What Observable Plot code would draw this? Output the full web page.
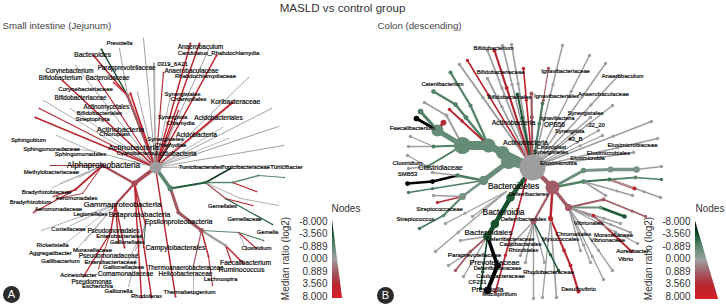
<!DOCTYPE html>
<html>
<head>
<meta charset="utf-8">
<style>html,body{margin:0;padding:0;background:#fff}svg{display:block}</style>
<script src="https://cdn.jsdelivr.net/npm/d3@7"></script>
<script src="https://cdn.jsdelivr.net/npm/@observablehq/plot@0.6"></script>
</head>
<body>
<div id="chart"></div>
<script>
// Colour key of the reference
const ratioTicks = [-8, -3.56, -0.889, 0, 0.889, 3.56, 8];
const ratioColors = ["#000000", "#124f2c", "#5d8a72", "#9e9ea0", "#a25a64", "#b8242e", "#d71e2a"];

// Tree edges: [x1, y1, x2, y2, median ratio, edge weight]
const edgesA = [
[155,167,127,95,0.9,2.2],[127,95,101,49,-4,1.2],[127,95,93,55,4,1.2],[127,95,119,48,0,.8],[127,95,113,82,3,1],
[155,167,143,38,0,.8],[155,167,153,62,0,.7],[155,167,154,63,0,.7],[155,167,163,72,3,1],[155,167,130,93,5,1.4],[155,167,137,92,0,.8],
[155,167,62,80,3.5,1.3],[155,167,98,80,3.5,1],[155,167,75,65,0,.8],[155,167,43,100,0,.7],[155,167,39,108,3,1],[155,167,35,117,3.5,1.2],[155,167,70,108,0,.7],
[155,167,90,150,0,.8],[90,150,56,135,0,.7],[90,150,62,148,0,.6],
[155,167,190,43,4.5,1.2],[155,167,199,43,5,1.2],[155,167,208,49,0,.8],[155,167,216,55,5,1.3],[155,167,248,77,0,.8],[155,167,232,102,5,1.6],[155,167,271,108,0,.8],[155,167,278,126,0,.8],[155,167,283,145,0,.8],[155,167,222,127,0,.6],[155,167,218,116,0,.6],[155,167,228,138,0,.6],[155,167,288,165,0,.8],[155,167,170,143,-8,.9],[155,167,178,110,3,1],[155,167,170,95,0,.7],
[155,167,134,183,1.6,3.2],[134,183,102,165,1.6,2],[134,183,115,204,2,1.8],[134,183,145,224,2.5,1.2],[155,167,175,296,3.5,1.2],
[102,165,50,165,2.5,1],[102,165,78,177,0,.7],[102,165,75,189,3.5,1.4],[75,189,53,196,4.5,1],[75,189,33,212,3.5,1],[102,165,82,193,2,.9],[82,193,57,198,2,.8],[102,165,60,183,0,.6],[102,165,52,187,0,.6],
[115,204,41,230,0,.7],[115,204,70,225,0,.7],[115,204,65,243,0,.6],[115,204,75,250,0,.7],[115,204,85,240,0,.7],[115,204,110,232,3.5,1.2],[110,232,83,276,4.5,1.1],[110,232,98,268,3,.8],[115,204,118,242,3.5,1.2],[115,204,124,247,3,1.2],
[145,224,128,260,0,.7],[145,224,128,286,0,.7],[145,224,135,250,0,.7],[145,224,143,247,-4,.7],[134,183,141,297,4.5,1.2],[134,183,151,297,4,1.2],
[155,167,170,188,-1,3],[170,188,205,182,-3,1.8],[205,182,230,168,-5,1.2],[205,182,232,182,-1,1.2],[232,182,258,175,-1,1.2],[258,175,284,177,-1,1],[232,182,256,191,4,1],[205,182,225,198,1.2,1.2],[225,198,252,205,3.5,1],[205,182,240,198,0,.7],[240,198,278,205,0,.7],[225,198,272,224,-3,1],
[170,188,178,212,1,2.5],[178,212,201,230,1,2.5],[201,230,238,232,-1,1],[238,232,263,240,-1.5,1],[238,232,256,248,4,1],[238,232,246,250,0,.7],[201,230,225,245,0,1.8],[225,245,243,263,4,1.2],[225,245,231,262,3.5,1],[201,230,193,265,1,1],[193,265,193,294,0,.6],[201,230,208,256,4.5,1.2],[208,256,212,285,3,.9]
];
const edgesB = [
[532,167,488,145,-.8,7],[488,145,462,145,-.8,9],[462,145,437,130,-.8,5],[437,130,420,111,-1.3,3],[437,130,416,118,-8,3],[437,130,443,122,3,3],[462,145,446,115,0,1.5],[446,115,424,102,0,1.2],[462,145,433,146,-1.5,2],[433,146,410,136,0,1],[433,146,408,146,0,1],
[488,145,455,104,-1.3,2.5],[455,104,433,91,-1.3,2.5],[488,145,470,105,-1.3,2.2],[470,105,450,72,-1.3,2.2],[532,167,459,64,0,1.4],[532,167,467,60,3.5,1.2],[488,145,449,109,3.5,1.3],
[532,167,487,50,0,1.3],[532,167,502,45,0,1.2],[532,167,511,44,0,1.2],[532,167,494,50,3.5,1.6],[532,167,487,78,0,1.3],[532,167,523,68,4.5,1.2],[532,167,517,94,-3,2],[532,167,531,93,.9,2.2],[532,167,548,68,.9,.9],[532,167,562,45,0,1.1],[532,167,589,55,0,1.1],[532,167,605,63,0,1.1],[532,167,618,75,0,1.1],[532,167,612,105,0,1.1],[532,167,651,121,0,1.1],[532,167,657,138,0,1.1],[532,167,633,152,0,1.1],[532,167,598,130,0,1],[532,167,602,135,0,1],[532,167,590,117,0,1],[532,167,542,103,-1.5,1.5],
[532,167,508,161,-.7,8],[508,161,483,180,-.7,5],[483,180,457,175,-1.5,1.8],[457,175,432,181,-8,2.5],[432,181,407,183,-8,2.5],[483,180,408,192,-1.5,1],[457,175,432,172,0,1],[483,180,462,196,-.5,2.5],[462,196,437,202,3,1.3],[462,196,433,195,0,1],[462,196,443,215,-1,1.4],[443,215,419,228,-1.5,1.4],[462,145,427,166,-1.5,2],[427,166,407,155,0,1],[427,166,408,168,0,1],
[532,167,510,197,-3,4.5],[510,197,487,236,-3.5,4.5],[506,191,472,216,0,1],[506,191,445,223,0,1],[506,191,435,251,0,1],[487,236,497,265,-8,3.5],[497,265,487,290,-8,4],[487,236,480,288,-4,1.2],[487,236,460,240,0,1],[487,236,470,251,1,1.3],[470,251,455,270,1,1.3],[470,251,448,265,0,1],[487,236,463,276,0,1],[526,178,495,291,4,1.2],
[532,167,552,187,.9,4.5],[552,187,583,170,-.7,2.8],[583,170,610,169,-.5,3.2],[610,169,636,169,-.5,3.5],[636,169,661,166,0,1],[552,187,583,181,-1.2,2.5],[583,181,609,179,-2,2],[609,179,635,177,-1,1.5],[635,177,661,179,-1.5,1.2],[583,181,605,195,0,1.2],[583,181,632,195,0,1.2],[609,179,634,188,4,1.6],[609,179,660,197,0,1],
[552,187,568,207,.9,3.5],[568,207,603,199,.9,1.5],[603,199,645,216,.9,1.2],[568,207,600,207,-.7,1.5],[600,207,624,216,-3,1.8],[568,207,593,215,4,1.2],[593,215,631,251,4.5,1.3],[568,207,620,223,0,1.1],[568,207,637,243,0,1],[568,207,612,270,0,1],[568,207,603,279,0,1],[568,207,590,262,0,1],[568,207,580,250,0,1],[568,207,630,232,0,1],
[552,187,550,218,3.5,2.5],[550,218,570,265,3.5,2],[570,265,578,291,4.5,1.6],[550,218,556,297,0,1.2],[550,218,542,297,0,1],
[552,187,533,221,.9,2.2],[533,221,533,298,0,1],[533,221,510,245,0,1],[533,221,520,255,0,1],[533,221,525,262,0,1],[533,221,544,262,0,1],[533,221,558,270,-3,1.2]
];
// Hub nodes: [x, y, median ratio, radius]
const hubsA = [[155,167,0,6],[134,183,1.6,3],[170,188,-1,3],[201,230,1,2.5],[205,182,-2,1.8],[102,165,1.6,1.8],[115,204,1.6,1.5]];
const hubsB = [[532,167,0,13],[488,145,-.8,7],[462,145,-.8,8],[437,130,-.8,6],[508,161,-.7,7],[483,180,-.7,4],[462,196,-.5,3.5],[552,187,.9,7],[568,207,.9,3.5],[550,218,3.5,2.5],[533,221,.9,3],[487,290,-8,3]];

// Taxon labels: [text, x, y, font size]
const labelsA = [
["Prevotella",119,43,5.8],["Bacteroides",92,54,7],["Corynebacterium",69,70,6.3],["Parapprevotellaceae",126,67,6.3],["Bifidobacterium",60,77,6.3],["Bacteroidaceae",107,77,6.3],["Corynebacteriaceae",85,89,6.1],["Bifidobacteriaceae",80,97,6.3],["Actinomycetales",106,106,6.3],["Bifidobacteriales",99,113,6.2],["Streptophyta",92,119,6],["Actinobacteria",120,129,7.5],["Chloroplast",114,134,6],["Actinobacteria",133,147,8],["Cyanobacteria",135,153,5.8],
["Sphingobium",28,140,6],["Sphingomonadaceae",51,149,6],["Sphingomonadales",80,154,6],["Alphaproteobacteria",103,165,8.2],["Methylobacteriaceae",51,172,6],["Bradyrhizobiaceae",46,192,6],["Aeromonadales",76,198,6],["Bradyrhizobium",30,202,6],["Aeromonadaceae",58,209,6],["Legionellales",90,214,5.8],["Gammaproteobacteria",122,204,7.8],["Betaproteobacteria",139,214,7.3],["Epsilonproteobacteria",178,221,7],["Coxiellaceae",68,229,6],["Pseudomonadales",113,230,6.3],["Enterobacteriales",119,236,6],["Gallionellales",127,242,5.9],["Rickettsiella",52,245,6],["Moraxellaceae",92,250,6],["Campylobacterales",175,247,7],["Aggregatibacter",50,253,6],["Pseudomonadaceae",108,255,6.5],["Gallibacterium",60,261,6],["Enterobacteriaceae",110,262,6],["Gallionellaceae",123,267,6],["Thermoanaerobacteraceae",185,267,6.3],["Comamonadaceae",125,273,6.6],["Helicobacteraceae",185,273,6.5],["Acinetobacter",78,275,6],["Pseudomonas",91,281,6.3],["Lachnospira",220,279,6.2],["Escherichia",97,286,6],["Gallionella",118,291,6],["Rhodoferax",146,296,6],["Thermabetogenium",189,292,6],
["Anaerobaculum",200,46,6.5],["Candidatus_Rhabdochlamydia",218,53,6],["0319_6A21",172,64,6],["Anaerobaculaceae",191,70,6.5],["Rhabdochlamydiaceae",205,76,6],["Synergistales",182,94,6],["Chlamydiales",188,99,6],["Koribacteraceae",235,101,6.8],["Synergistia",172,117,6],["Acidobacteriales",218,117,6.6],["Chlamydia",180,123,6],["Acidobacteria",196,134,6.8],["Synergistetes",165,139,6],["Chlamydiae",170,145,6],["Acidobacteria",175,153,7],
["Tunicibacterales",200,167,6],["Tunicibacteraceae",245,167,6],["Tunicibacter",286,167,6],["Gemellales",222,206,5.8],["Gemellaceae",244,219,5.8],["Gemella",267,232,5.8],["Clostridium",256,248,6],["Faecalibacterium",245,262,6.7],["Ruminococcus",241,269,7]
];
const labelsB = [
["Bifidobacterium",493,48,5.8],["Bifidobacteriaceae",500,72,5.8],["Catenibacterium",442,84,5.8],["Bifidobacteriales",509,97,6],["Ignavibacteriaceae",565,71,5.8],["Ignavibacteriales",556,96,6],["Anaerobaculum",622,76,6],["Anaerobaculaceae",603,94,6.1],["Synergistales",585,113,6],["Ignavibacteria",557,118,5.5],["OPB56",554,124,6.5],["32_20",596,125,6],["Synergistia",569,131,6],["#3_B",575,139,6],["Elusimicrobiaceae",632,145,6.2],["Chloroplast",551,147,5.8],["Synergistetes",550,152,5.8],["Elusimicrobiales",608,153,6],["Elusimicrobia",587,158,5.8],["Elusimicrobia",558,163,6.2],["Actinobacteria",513,122,6.9],["Actinobacteria",525,142,7.1],
["Faecalibacterium",412,128,6],["Clostridium",407,163,6],["Clostridiaceae",440,167,7],["SMB53",407,174,6],["Streptococcaceae",439,209,5.8],["Streptococcus",415,219,6],["Bacteroidetes",513,186,8.4],["Deferribacteres",528,194,5.8],["Bacteroidia",503,212,8.4],["Deferribacterales",523,219,6],["Bacteroidales",488,232,7.9],["Deferribacteraceae",510,239,5.6],["Caulobacterales",520,244,5.8],["Rhizobiales",523,250,5.8],["Paraprevotellaceae",474,255,6.2],["Prevotellaceae",494,262,7.6],["Deferribacteraceae",497,268,5.6],["Caulobacteraceae",500,276,6],["CF231",477,282,6],["Prevotella",487,289,7.2],["Mucispirillum",499,294,6],["Rhodobacteraceae",548,272,6],
["Vibrionales",588,223,6],["Chromatiales",573,234,6],["Moraxellaceae",613,235,6],["Vibrionaceae",607,240,6],["Myxococcales",560,239,6],["Aureobacter",632,251,6],["Vibrio",625,259,6],["Desulfovibrio",578,289,6]
];

// Page and panel texts: [text, x, y, font size]
const titles = [["MASLD vs control group",342,8,11.6]];
const panelTitles = [["Small intestine (Jejunum)",2,25,9.7],["Colon (descending)",377,25,9.7]];
const badges = [["A",11,294],["B",385,295]];

// Two colour keys: wedge box, tick text anchor and title placement
const keys = [
  {x0:332, x1:342, top:220, bottom:298, tickX:327, axisX:285, nodesX:331},
  {x0:695, x1:718, top:221, bottom:299, tickX:690, axisX:648, nodesX:695}
];

const rowsA = edgesA.map(([x1,y1,x2,y2,v,w]) => ({x1,y1,x2,y2,v,w:w*1.2}));
const rowsB = edgesB.map(([x1,y1,x2,y2,v,w]) => ({x1,y1,x2,y2,v,w:w<2 ? w*1.35 : w}));
const edges = rowsA.concat(rowsB);
const hubs = hubsA.concat(hubsB).map(([x,y,v,r]) => ({x,y,v,r}));
const tipsA = rowsA.map(d => ({x:d.x2, y:d.y2, v:d.v, r:Math.max(d.w * 0.7, 0.6)}));
const tipsB = rowsB.map(d => ({x:d.x2, y:d.y2, v:d.v, r:Math.max(d.w * 0.95, 1.7)}));
// long rays of the colon tree carry an intermediate node
const midB = rowsB.filter(d => Math.hypot(d.x2-d.x1, d.y2-d.y1) > 45).map(d => ({
  x:d.x1 + (d.x2-d.x1)*0.68, y:d.y1 + (d.y2-d.y1)*0.68, v:d.v, r:Math.max(d.w*0.95, 1.6)
}));
const labels = labelsA.concat(labelsB).map(([t,x,y,s]) => ({t,x,y,s}));

const tickPos = d3.scaleLinear(d3.range(7), ratioTicks);
const wedge = keys.flatMap(k => d3.range(k.bottom - k.top).map(i => ({
  x0:k.x0, x1:k.x0 + (k.x1 - k.x0) * (i + 1) / (k.bottom - k.top),
  y1:k.top + i, y2:k.top + i + 1,
  v:tickPos(6 * i / (k.bottom - k.top - 1))
})));
const tickRows = keys.flatMap(k => ratioTicks.map((v,i) => ({
  t:v.toFixed(3), x:k.tickX, y:221 + i * 12.5
})));

const plot = Plot.plot({
  width:726, height:306, margin:0,
  style:{background:"#fff", fontFamily:"'Liberation Sans', Arial, sans-serif", overflow:"hidden"},
  x:{domain:[0,726], range:[0,726], axis:null},
  y:{domain:[0,306], range:[0,306], axis:null},
  r:{type:"identity"},
  color:{type:"linear", domain:ratioTicks, range:ratioColors, interpolate:"rgb"},
  marks:[
    Plot.link(edges, {x1:"x1", y1:"y1", x2:"x2", y2:"y2", stroke:"v", strokeWidth:"w", strokeLinecap:"round"}),
    Plot.dot(tipsA.concat(tipsB, midB), {x:"x", y:"y", r:"r", fill:"v", stroke:"none"}),
    Plot.dot(hubs, {x:"x", y:"y", r:"r", fill:"v", stroke:"none"}),
    Plot.text(labels, {x:"x", y:"y", text:"t", fontSize:"s", fill:"#0a0a0a", stroke:"#0a0a0a", strokeWidth:0.2}),
    Plot.text(titles, {x:d=>d[1], y:d=>d[2], text:d=>d[0], fontSize:d=>d[3], fill:"#333"}),
    Plot.text(panelTitles, {x:d=>d[1], y:d=>d[2], text:d=>d[0], fontSize:d=>d[3], textAnchor:"start", fill:"#444"}),
    Plot.dot(badges, {x:d=>d[1], y:d=>d[2], r:()=>8.5, fill:"#2b2b2b", stroke:"none"}),
    Plot.text(badges, {x:d=>d[1], y:d=>d[2], text:d=>d[0], fontSize:11, fill:"#fff"}),
    Plot.rect(wedge, {x1:"x0", x2:"x1", y1:"y1", y2:"y2", fill:"v"}),
    Plot.text(tickRows, {x:"x", y:"y", text:"t", fontSize:10, textAnchor:"end", fill:"#333"}),
    Plot.text(keys, {x:"nodesX", y:()=>208, text:()=>"Nodes", fontSize:10, textAnchor:"start", fill:"#333"}),
    Plot.text(keys, {x:"axisX", y:()=>258, text:()=>"Median ratio (log2)", fontSize:10, rotate:-90, fill:"#333"})
  ]
});
document.getElementById("chart").append(plot);
</script>
</body>
</html>
